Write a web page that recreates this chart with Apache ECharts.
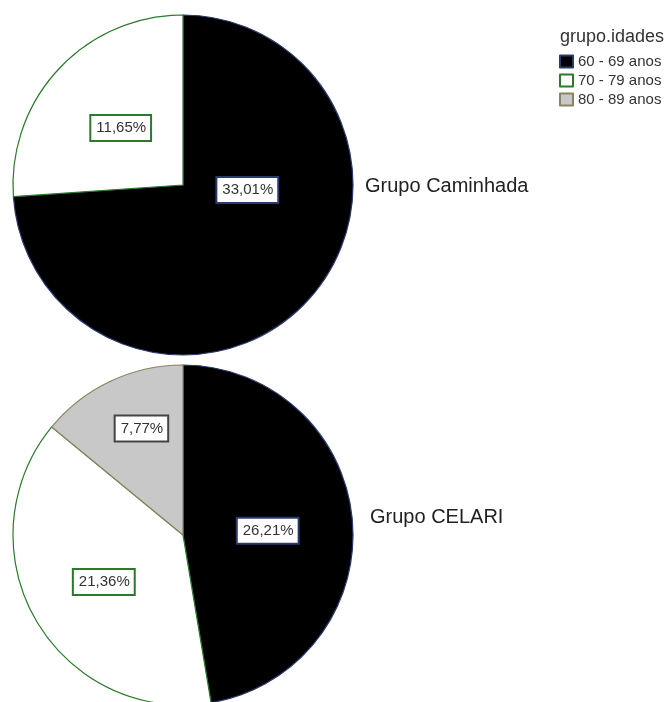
<!DOCTYPE html>
<html>
<head>
<meta charset="utf-8">
<script src="https://cdn.jsdelivr.net/npm/echarts@6/dist/echarts.min.js"></script>
<style>
html,body{margin:0;padding:0;background:#fff;}
#chart{width:665px;height:702px;}
</style>
</head>
<body>
<div id="chart"></div>
<script>
const categories = ['60 - 69 anos', '70 - 79 anos', '80 - 89 anos'];
const groupNames = ['Grupo Caminhada', 'Grupo CELARI'];
const caminhadaValues = [33.01, 11.65];
const celariValues = [26.21, 21.36, 7.77];
const legendTitle = 'grupo.idades';

const fills = ['#000000', '#ffffff', '#c8c8c8'];
const edges = ['#2a3a6e', '#2a7a2a', '#8a8460'];
const labelEdges = ['#2a3a6e', '#2a7a2a', '#444444'];
const FONT = 'Arial, "Liberation Sans", sans-serif';

function fmt(v) { return v.toFixed(2).replace('.', ',') + '%'; }

function buildData(values, offsets) {
  return values.map(function (v, i) {
    return {
      name: categories[i],
      value: v,
      itemStyle: { color: fills[i], borderColor: edges[i], borderWidth: 1.2 },
      label: { borderColor: labelEdges[i], offset: offsets[i] }
    };
  });
}

const labelBase = {
  show: true,
  position: 'inside',
  formatter: function (p) { return fmt(p.value); },
  fontFamily: FONT,
  fontSize: 15,
  color: '#333333',
  backgroundColor: '#ffffff',
  borderWidth: 2,
  borderRadius: 0,
  padding: [5, 4, 4, 5]
};

const chart = echarts.init(document.getElementById('chart'), null, { renderer: 'canvas' });
chart.setOption({
  backgroundColor: '#ffffff',
  animation: false,
  title: [
    { text: groupNames[0], left: 365, top: 176, padding: 0,
      textStyle: { fontFamily: FONT, fontSize: 20, fontWeight: 'normal', color: '#222222' } },
    { text: groupNames[1], left: 370, top: 507, padding: 0,
      textStyle: { fontFamily: FONT, fontSize: 20, fontWeight: 'normal', color: '#222222' } },
    { text: legendTitle, left: 560, top: 28, padding: 0,
      textStyle: { fontFamily: FONT, fontSize: 18, fontWeight: 'normal', color: '#333333' } }
  ],
  legend: {
    orient: 'vertical',
    left: 559,
    top: 54,
    padding: 0,
    itemWidth: 13,
    itemHeight: 12,
    itemGap: 4,
    selectedMode: false,
    icon: 'rect',
    textStyle: { fontFamily: FONT, fontSize: 15, color: '#333333' },
    data: categories.map(function (c, i) {
      return { name: c, itemStyle: { color: fills[i], borderColor: edges[i], borderWidth: 2 } };
    })
  },
  series: [
    {
      type: 'pie',
      name: groupNames[0],
      center: [183, 185],
      radius: [0, 170],
      startAngle: 90,
      clockwise: true,
      label: labelBase,
      labelLine: { show: false },
      emphasis: { disabled: true },
      data: buildData(caminhadaValues, [[0, -55], [2, 3]])
    },
    {
      type: 'pie',
      name: groupNames[1],
      center: [183, 535],
      radius: [0, 170],
      startAngle: 90,
      clockwise: true,
      label: labelBase,
      labelLine: { show: false },
      emphasis: { disabled: true },
      data: buildData(celariValues, [[-3, 3], [-3, 3], [-4, -27]])
    }
  ]
});
</script>
</body>
</html>
